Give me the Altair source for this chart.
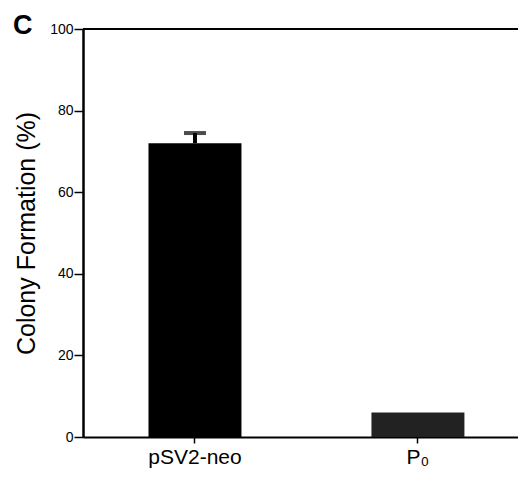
import altair as alt
import pandas as pd

categories = ["pSV2-neo", "P₀"]
values = [72, 6]
errors = [2.5, 0]
fills = ["#000000", "#222222"]
y_ticks = [0, 20, 40, 60, 80, 100]

df = pd.DataFrame({"cat": categories, "val": values, "err": errors, "fill": fills})
df["hi"] = df["val"] + df["err"]

FONT = "Liberation Sans"

x = alt.X(
    "cat:N",
    sort=categories,
    scale=alt.Scale(paddingInner=0.583, paddingOuter=0.267, align=0.55),
    axis=alt.Axis(
        title=None, labelAngle=0, labelFontSize=21, labelFont=FONT, labelColor="black",
        domainColor="black", domainWidth=2, tickColor="black", tickSize=6, tickWidth=1.5,
        labelPadding=3,
    ),
)
yscale = alt.Scale(domain=[0, 100], nice=False)
y = alt.Y(
    "val:Q",
    scale=yscale,
    axis=alt.Axis(
        values=y_ticks, title="Colony Formation (%)", titleFont=FONT, titleFontSize=25,
        titleFontWeight="normal", titleColor="black", titleX=-57, titleY=204,
        titleAngle=-90, titleAlign="center", titleBaseline="middle",
        labelFont=FONT, labelFontSize=14, labelColor="black", labelPadding=1,
        domainColor="black", domainWidth=2.5, tickColor="black", tickSize=9, tickWidth=1.5,
        grid=False,
    ),
)

bars = alt.Chart(df).mark_bar().encode(
    x=x, y=y, color=alt.Color("fill:N", scale=None)
)

err_df = df[df["err"] > 0]
stem = alt.Chart(err_df).mark_rule(color="black", strokeWidth=4).encode(
    x=alt.X("cat:N", sort=categories), y="val:Q", y2="hi:Q"
)
cap = alt.Chart(err_df).mark_tick(color="black", size=22, thickness=4, orient="horizontal").encode(
    x=alt.X("cat:N", sort=categories), y=alt.Y("hi:Q", scale=yscale)
)

top = alt.Chart(pd.DataFrame({"t": [100]})).mark_rule(color="black", strokeWidth=2).encode(
    y=alt.Y("t:Q", scale=yscale)
)

label = alt.Chart(pd.DataFrame({"l": ["C"]})).mark_text(
    font=FONT, fontSize=27, fontWeight="bold", color="black", align="left", baseline="alphabetic"
).encode(text="l:N", x=alt.value(-70), y=alt.value(5))

chart = alt.layer(bars, stem, cap, top, label).properties(
    width=435, height=408,
    autosize=alt.AutoSizeParams(type="none"),
    padding={"left": 75, "top": 21, "right": 0, "bottom": 32},
).configure_view(stroke=None).configure(background="white")

chart.save("out.html", embed_options={"renderer": "svg", "actions": False})
